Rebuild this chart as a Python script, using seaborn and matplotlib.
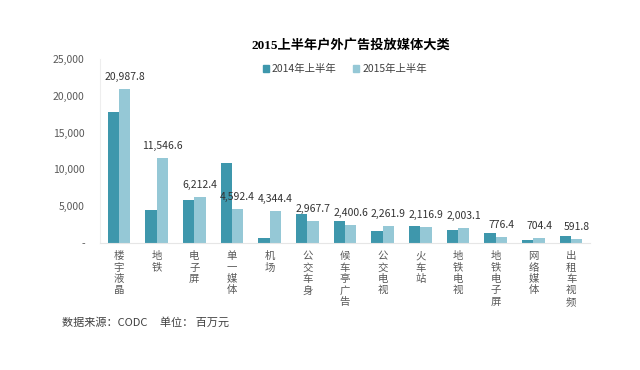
import matplotlib
matplotlib.use("Agg")
import matplotlib.pyplot as plt
import seaborn as sns
import pandas as pd

categories = ["楼宇液晶", "地铁", "电子屏", "单一媒体", "机场", "公交车身", "候车亭广告",
              "公交电视", "火车站", "地铁电视", "地铁电子屏", "网络媒体", "出租车视频"]
values_2014 = [17800, 4500, 5800, 10900, 700, 4000, 3000, 1600, 2300, 1800, 1300, 400, 900]
values_2015 = [20987.8, 11546.6, 6212.4, 4592.4, 4344.4, 2967.7, 2400.6, 2261.9, 2116.9,
               2003.1, 776.4, 704.4, 591.8]
series_names = ["2014年上半年", "2015年上半年"]
y_ticks = [0, 5000, 10000, 15000, 20000, 25000]
y_tick_labels = ["-", "5,000", "10,000", "15,000", "20,000", "25,000"]

sns.set_theme(style="white")
plt.rcParams['font.family'] = ['Noto Sans CJK SC', 'DejaVu Sans']

df = pd.DataFrame({
    "cat": categories * 2,
    "val": values_2014 + values_2015,
    "series": [series_names[0]] * len(categories) + [series_names[1]] * len(categories),
})

fig = plt.figure(figsize=(6.4, 3.7), dpi=100)
ax = fig.add_axes([100/640, 1-243/370, 490/640, 184/370])
palette = {series_names[0]: "#3E97AC", series_names[1]: "#95C8D6"}
sns.barplot(data=df, x="cat", y="val", hue="series", palette=palette, ax=ax,
            width=0.6, saturation=1, legend=True, linewidth=0, edgecolor="none")

ax.set_ylim(0, 25000)
ax.set_xlim(-0.5, len(categories) - 0.5)
ax.set_yticks(y_ticks)
ax.set_yticklabels(y_tick_labels, fontsize=7.5, color="#595959")
ax.set_xticks(range(len(categories)))
ax.set_xticklabels(["\n".join(c) for c in categories], fontsize=7.5, color="#595959",
                   va="top", linespacing=1.17)
ax.tick_params(axis="x", length=0, pad=6)
ax.tick_params(axis="y", length=0, pad=11)
ax.set_xlabel("")
ax.set_ylabel("")
for s in ["top", "right"]:
    ax.spines[s].set_visible(False)
ax.spines["left"].set_color("#EEEEEE")
ax.spines["bottom"].set_color("#E6E6E6")
ax.spines["left"].set_linewidth(0.8)
ax.spines["bottom"].set_linewidth(0.8)

# value labels on 2015 bars
cont2015 = ax.containers[1]
for rect, v in zip(cont2015, values_2015):
    ax.annotate(f"{v:,.1f}", (rect.get_x() + rect.get_width() / 2, rect.get_height()),
                xytext=(0, 5), textcoords="offset points", ha="center", va="bottom",
                fontsize=7.5, color="#333333")

leg = ax.get_legend()
leg.remove()
handles = [plt.Rectangle((0, 0), 1, 1, color=palette[n]) for n in series_names]
fig.legend(handles, series_names, loc="center", bbox_to_anchor=(345/640, 1-69/370),
           ncol=2, frameon=False, fontsize=7.5, handlelength=0.55, handleheight=0.55,
           handletextpad=0.3, columnspacing=1.6, labelcolor="#404040")

fig.text(351/640, 1-45/370, "2015上半年户外广告投放媒体大类", ha="center", va="center",
         fontsize=9.5, fontweight="bold", family=['Liberation Serif', 'Noto Sans CJK SC'],
         color="#000000")
fig.text(62/640, 1-322/370, "数据来源：CODC     单位： 百万元", ha="left", va="center",
         fontsize=8, color="#404040")

fig.savefig("out.png", dpi=100, facecolor="white")
